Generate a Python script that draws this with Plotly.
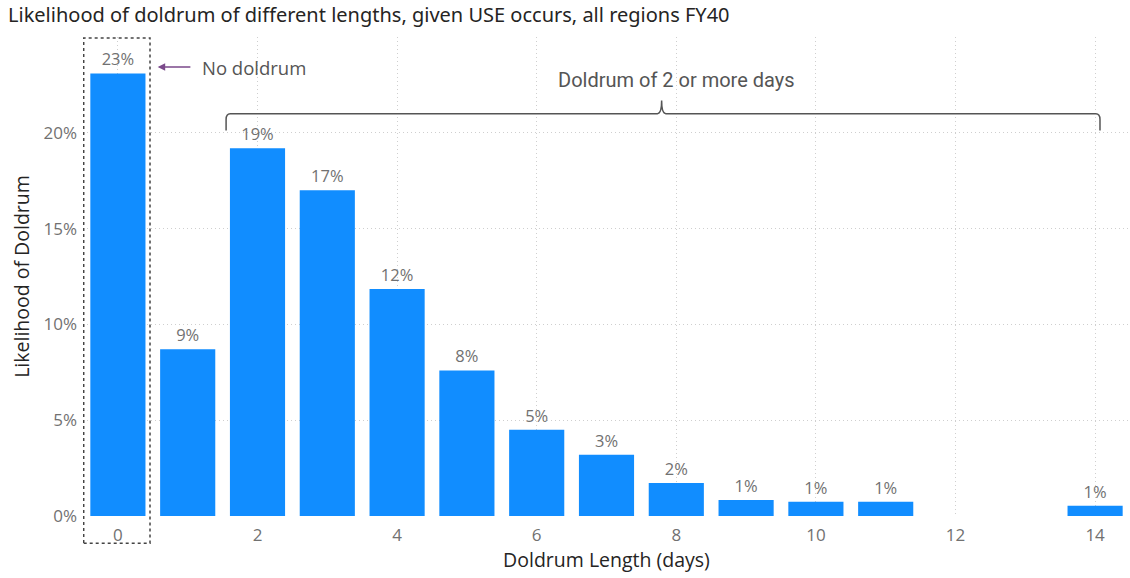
import plotly.graph_objects as go

# Doldrum length (days) and the likelihood of each, given USE occurs
lengths = [0, 1, 2, 3, 4, 5, 6, 7, 8, 9, 10, 11, 14]
likelihood = [0.231, 0.087, 0.192, 0.170, 0.1185, 0.076, 0.045, 0.032,
              0.0172, 0.0084, 0.0075, 0.0075, 0.0054]

x_ticks = [0, 2, 4, 6, 8, 10, 12, 14]
y_ticks = [0, 0.05, 0.10, 0.15, 0.20]

title_text = "Likelihood of doldrum of different lengths, given USE occurs, all regions FY40"
BLUE = "#118DFF"
GRID = "#cfcfcf"
TICK = "#717171"
DARK = "#252423"
BASE_FONT = "Open Sans"

fig = go.Figure()
fig.add_trace(go.Bar(
    x=lengths,
    y=likelihood,
    marker=dict(color=BLUE, line=dict(width=0)),
    texttemplate="%{y:.0%}",
    textposition="outside",
    textfont=dict(family=BASE_FONT, size=16.5, color=TICK),
    cliponaxis=False,
    width=0.79,
    hoverinfo="x+y",
))

# dotted frame around the "no doldrum" bar
fig.add_shape(type="rect", xref="x", yref="paper",
              x0=-0.49, x1=0.46, y0=-0.057, y1=0.998,
              line=dict(color="#444444", width=1.5, dash="dot"),
              fillcolor="rgba(0,0,0,0)", layer="above")

# arrow pointing to the frame
fig.add_annotation(x=0.57, y=0.2343, xref="x", yref="y",
                   ax=1.06, ay=0.2343, axref="x", ayref="y",
                   text="", showarrow=True, arrowhead=2, arrowsize=1,
                   arrowwidth=1.5, arrowcolor="#7B4A8B")
fig.add_annotation(x=1.17, y=0.2343, xref="x", yref="y", xanchor="left",
                   yanchor="middle", text="No doldrum", showarrow=False,
                   font=dict(family=BASE_FONT, size=18.5, color="#555555"))

# curly bracket spanning the 2+ day doldrums
bx0, bx1, bmid = 1.55, 14.07, 7.79
by, byend, bypeak = 0.2100, 0.2012, 0.2168
r = 0.06
path = (f"M {bx0},{byend} L {bx0},{by - 0.003} Q {bx0},{by} {bx0 + r},{by} "
        f"L {bmid - r},{by} Q {bmid},{by} {bmid},{bypeak} "
        f"Q {bmid},{by} {bmid + r},{by} L {bx1 - r},{by} "
        f"Q {bx1},{by} {bx1},{by - 0.003} L {bx1},{byend}")
fig.add_shape(type="path", path=path, xref="x", yref="y",
              line=dict(color="#555555", width=1.5))
fig.add_annotation(x=8.0, y=0.2276, xref="x", yref="y", text="Doldrum of 2 or more days",
                   showarrow=False, xanchor="center", yanchor="middle",
                   font=dict(family="Roboto", size=20, color="#555555"))

fig.update_layout(
    width=1130, height=578,
    margin=dict(l=83, r=0, t=37, b=62),
    paper_bgcolor="white", plot_bgcolor="white",
    showlegend=False,
    title=dict(text=title_text, xref="container", yref="container",
               x=8 / 1130, y=1 - 15 / 578, xanchor="left", yanchor="middle",
               font=dict(family="Noto Sans", size=20, color=DARK)),
    font=dict(family=BASE_FONT),
)
fig.update_xaxes(
    range=[-0.5, 14.5], tickvals=x_ticks, ticktext=[str(v) for v in x_ticks],
    showgrid=True, gridcolor=GRID, griddash="1px,3px", gridwidth=1,
    zeroline=False, showline=False, ticks="", ticklabelstandoff=7,
    tickfont=dict(family=BASE_FONT, size=17, color=TICK),
    title=dict(text="Doldrum Length (days)", standoff=6,
               font=dict(family=BASE_FONT, size=19.5, color=DARK)),
)
fig.update_yaxes(
    range=[0, 0.25], tickvals=y_ticks, tickformat=".0%",
    showgrid=True, gridcolor=GRID, griddash="1px,3px", gridwidth=1,
    zeroline=False, showline=False, ticks="", ticklabelstandoff=5,
    tickfont=dict(family=BASE_FONT, size=17, color=TICK),
    title=dict(text="Likelihood of Doldrum", standoff=8,
               font=dict(family=BASE_FONT, size=19.5, color=DARK)),
)

fig.write_html("out.html")
